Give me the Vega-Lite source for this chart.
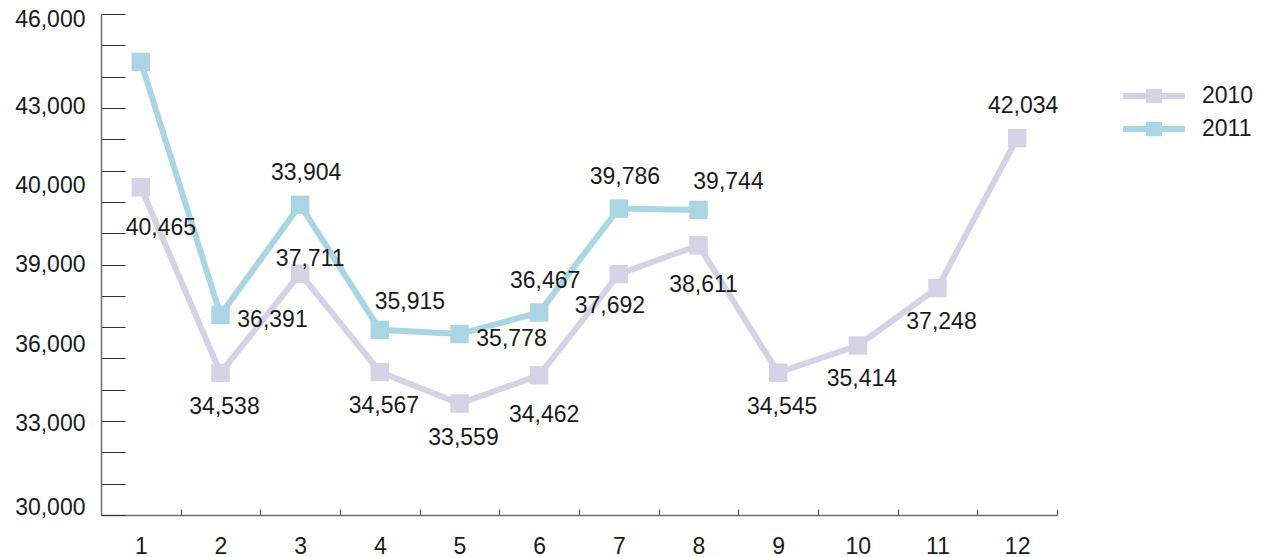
{
  "$schema": "https://vega.github.io/schema/vega-lite/v6.json",
  "width": 956,
  "height": 501,
  "autosize": {"type": "none"},
  "padding": {"left": 101, "top": 14, "right": 209, "bottom": 42},
  "config": {
    "view": {"stroke": null},
    "font": "Liberation Sans",
    "text": {"font": "Liberation Sans", "fontSize": 23, "color": "#1a1a1a"}
  },
  "data": {
    "values": [
      {"year": 2010, "month": 1, "value": 40465, "label": "40,465"},
      {"year": 2010, "month": 2, "value": 34538, "label": "34,538"},
      {"year": 2010, "month": 3, "value": 37711, "label": "37,711"},
      {"year": 2010, "month": 4, "value": 34567, "label": "34,567"},
      {"year": 2010, "month": 5, "value": 33559, "label": "33,559"},
      {"year": 2010, "month": 6, "value": 34462, "label": "34,462"},
      {"year": 2010, "month": 7, "value": 37692, "label": "37,692"},
      {"year": 2010, "month": 8, "value": 38611, "label": "38,611"},
      {"year": 2010, "month": 9, "value": 34545, "label": "34,545"},
      {"year": 2010, "month": 10, "value": 35414, "label": "35,414"},
      {"year": 2010, "month": 11, "value": 37248, "label": "37,248"},
      {"year": 2010, "month": 12, "value": 42034, "label": "42,034"},
      {"year": 2011, "month": 1, "value": 44470, "label": ""},
      {"year": 2011, "month": 2, "value": 36391, "label": "36,391"},
      {"year": 2011, "month": 3, "value": 39904, "label": "33,904"},
      {"year": 2011, "month": 4, "value": 35915, "label": "35,915"},
      {"year": 2011, "month": 5, "value": 35778, "label": "35,778"},
      {"year": 2011, "month": 6, "value": 36467, "label": "36,467"},
      {"year": 2011, "month": 7, "value": 39786, "label": "39,786"},
      {"year": 2011, "month": 8, "value": 39744, "label": "39,744"}
    ]
  },
  "encoding": {
    "x": {
      "field": "month",
      "type": "ordinal",
      "scale": {"type": "band", "paddingInner": 0, "paddingOuter": 0},
      "axis": {
        "title": null,
        "labelAngle": 0,
        "tickBand": "extent",
        "tickSize": -6,
        "tickColor": "#444",
        "tickWidth": 1,
        "domainColor": "#6e6e6e",
        "domainWidth": 1.5,
        "labelFont": "Liberation Sans",
        "labelFontSize": 23,
        "labelColor": "#1a1a1a",
        "labelPadding": 26,
        "grid": false
      }
    }
  },
  "layer": [
    {
      "mark": {"type": "line", "strokeWidth": 6, "point": {"shape": "square", "size": 340, "filled": true, "opacity": 1}},
      "encoding": {
        "y": {
          "field": "value",
          "type": "quantitative",
          "scale": {"domain": [30000, 46000], "nice": false, "zero": false},
          "axis": {
            "orient": "left",
            "title": null,
            "values": [30000, 31000, 32000, 33000, 34000, 35000, 36000, 37000, 38000, 39000, 40000, 41000, 42000, 43000, 44000, 45000, 46000],
            "labels": false,
            "tickSize": -24,
            "tickColor": "#333",
            "tickWidth": 1,
            "domainColor": "#6e6e6e",
            "domainWidth": 1.5,
            "grid": false
          }
        },
        "color": {
          "field": "year",
          "type": "nominal",
          "scale": {"domain": [2010, 2011], "range": ["#d5d2e5", "#aad5e2"]},
          "legend": {
            "title": null,
            "orient": "none",
            "legendX": 1022,
            "legendY": 67,
            "padding": 0,
            "symbolType": "M-1,-0.1H-0.26V-0.23H0.26V-0.1H1V0.1H0.26V0.23H-0.26V0.1H-1Z",
            "symbolSize": 3844,
            "symbolStrokeWidth": 0,
            "clipHeight": 30,
            "rowPadding": 3,
            "labelFont": "Liberation Sans",
            "labelFontSize": 23,
            "labelColor": "#1a1a1a",
            "labelOffset": 17,
            "encode": {"symbols": {"update": {"fill": {"scale": "color", "field": "value"}, "strokeWidth": {"value": 0}, "opacity": {"value": 1}}}}
          }
        }
      }
    },
    {
      "transform": [{"filter": "datum.year == 2010 && (datum.month == 2 || datum.month == 4 || datum.month == 5 || datum.month == 9 || datum.month == 10 || datum.month == 11)"}],
      "mark": {"type": "text", "dx": 4, "dy": 34},
      "encoding": {
        "y": {
          "field": "value",
          "type": "quantitative",
          "axis": {
            "orient": "left",
            "title": null,
            "values": [30224, 32938, 35430, 37985, 40508, 43031, 45809],
            "labelExpr": "datum.value < 31000 ? '30,000' : datum.value < 34000 ? '33,000' : datum.value < 36500 ? '36,000' : datum.value < 39000 ? '39,000' : datum.value < 42000 ? '40,000' : datum.value < 44000 ? '43,000' : '46,000'",
            "ticks": false,
            "domain": false,
            "grid": false,
            "labelFont": "Liberation Sans",
            "labelFontSize": 23,
            "labelColor": "#1a1a1a",
            "labelPadding": 16
          }
        },
        "text": {"field": "label"}
      }
    },
    {
      "transform": [{"filter": "datum.year == 2010 && (datum.month == 6 || datum.month == 8)"}],
      "mark": {"type": "text", "dx": 5, "dy": 40},
      "encoding": {"y": {"field": "value", "type": "quantitative", "axis": null}, "text": {"field": "label"}}
    },
    {
      "transform": [{"filter": "datum.year == 2010 && datum.month == 7"}],
      "mark": {"type": "text", "dx": -9, "dy": 32},
      "encoding": {"y": {"field": "value", "type": "quantitative", "axis": null}, "text": {"field": "label"}}
    },
    {
      "transform": [{"filter": "datum.year == 2010 && datum.month == 1"}],
      "mark": {"type": "text", "dx": 20, "dy": 41},
      "encoding": {"y": {"field": "value", "type": "quantitative", "axis": null}, "text": {"field": "label"}}
    },
    {
      "transform": [{"filter": "datum.year == 2010 && datum.month == 3"}],
      "mark": {"type": "text", "dx": 10, "dy": -15},
      "encoding": {"y": {"field": "value", "type": "quantitative", "axis": null}, "text": {"field": "label"}}
    },
    {
      "transform": [{"filter": "(datum.year == 2010 && datum.month == 12) || (datum.year == 2011 && (datum.month == 3 || datum.month == 6 || datum.month == 7))"}],
      "mark": {"type": "text", "dx": 6, "dy": -32},
      "encoding": {"y": {"field": "value", "type": "quantitative", "axis": null}, "text": {"field": "label"}}
    },
    {
      "transform": [{"filter": "datum.year == 2011 && (datum.month == 4 || datum.month == 8)"}],
      "mark": {"type": "text", "dx": 30, "dy": -28},
      "encoding": {"y": {"field": "value", "type": "quantitative", "axis": null}, "text": {"field": "label"}}
    },
    {
      "transform": [{"filter": "datum.year == 2011 && (datum.month == 2 || datum.month == 5)"}],
      "mark": {"type": "text", "dx": 52, "dy": 5},
      "encoding": {"y": {"field": "value", "type": "quantitative", "axis": null}, "text": {"field": "label"}}
    }
  ],
  "resolve": {"axis": {"y": "independent"}}
}
